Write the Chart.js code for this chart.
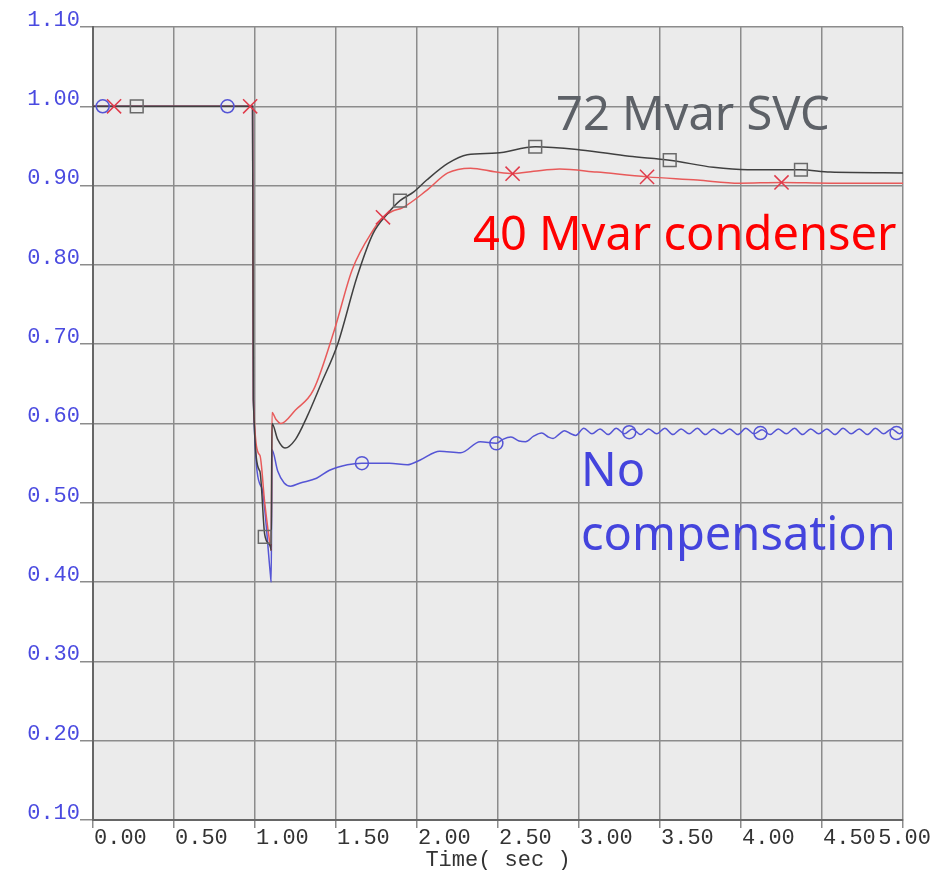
<!DOCTYPE html>
<html>
<head>
<meta charset="utf-8">
<title>Voltage recovery</title>
<script src="https://cdn.jsdelivr.net/npm/chart.js@4/dist/chart.umd.min.js"></script>
<style>
  body { margin: 0; background: #ffffff; }
  #wrap { width: 932px; height: 870px; }
</style>
</head>
<body>
<div id="wrap"><canvas id="voltChart" width="932" height="870"></canvas></div>
<script>
// 72 Mvar SVC (black)
const svcTime = [0, 0.985, 0.99, 1.03, 1.06, 1.095, 1.10, 1.105, 1.14, 1.185, 1.25, 1.32, 1.41, 1.51, 1.63, 1.73, 1.82, 1.895, 1.98, 2.06, 2.19, 2.31, 2.49, 2.73, 3.01, 3.31, 3.56, 3.83, 4.04, 4.37, 4.55, 5.0];
const svcVolt = [1.0, 1.0, 0.63, 0.54, 0.46, 0.445, 0.44, 0.60, 0.58, 0.569, 0.58, 0.608, 0.651, 0.70, 0.785, 0.84, 0.865, 0.881, 0.892, 0.907, 0.928, 0.939, 0.941, 0.949, 0.945, 0.937, 0.932, 0.923, 0.92, 0.92, 0.917, 0.916];

// 40 Mvar condenser (red)
const condTime = [0, 0.985, 0.99, 1.03, 1.06, 1.095, 1.10, 1.105, 1.13, 1.16, 1.25, 1.36, 1.49, 1.60, 1.73, 1.79, 1.85, 1.91, 2.06, 2.19, 2.33, 2.49, 2.59, 2.72, 2.88, 3.11, 3.42, 3.73, 3.99, 4.25, 4.55, 5.0];
const condVolt = [1.0, 1.0, 0.63, 0.56, 0.50, 0.445, 0.44, 0.614, 0.605, 0.60, 0.617, 0.642, 0.718, 0.794, 0.844, 0.860, 0.868, 0.872, 0.894, 0.916, 0.922, 0.917, 0.915, 0.918, 0.921, 0.917, 0.911, 0.907, 0.903, 0.904, 0.903, 0.903];

// No compensation (blue)
const noneTime = [0, 0.985, 0.99, 1.04, 1.095, 1.10, 1.105, 1.14, 1.18, 1.22, 1.28, 1.38, 1.46, 1.57, 1.66, 1.83, 1.94, 2.02, 2.14, 2.27, 2.39, 2.49,
  2.53, 2.58, 2.63, 2.67, 2.72, 2.77, 2.81, 2.84, 2.88, 2.91, 2.95, 2.98, 3.03, 3.08, 3.13, 3.18, 3.23, 3.28, 3.33, 3.38,
  3.43, 3.48, 3.53, 3.58, 3.63, 3.68, 3.73, 3.78, 3.83, 3.88, 3.93, 3.98, 4.03, 4.08, 4.13, 4.18, 4.23, 4.28, 4.33, 4.38,
  4.43, 4.48, 4.53, 4.58, 4.63, 4.68, 4.73, 4.78, 4.83, 4.88, 4.93, 4.98, 5.0];
const noneVolt = [1.0, 1.0, 0.63, 0.52, 0.41, 0.40, 0.567, 0.54, 0.525, 0.521, 0.525, 0.531, 0.541, 0.548, 0.55, 0.55, 0.548, 0.554, 0.565, 0.563, 0.577, 0.575,
  0.580, 0.583, 0.578, 0.577, 0.584, 0.588, 0.583, 0.581, 0.587, 0.591, 0.587, 0.585, 0.594, 0.587, 0.593, 0.586, 0.594, 0.587, 0.593, 0.586,
  0.593, 0.587, 0.594, 0.586, 0.593, 0.587, 0.594, 0.586, 0.593, 0.587, 0.593, 0.586, 0.594, 0.587, 0.592, 0.586, 0.593, 0.587, 0.594, 0.586,
  0.593, 0.587, 0.593, 0.586, 0.594, 0.587, 0.593, 0.586, 0.594, 0.587, 0.593, 0.587, 0.590];

// sparse markers
const svcMarkT = [0.27, 1.06, 1.895, 2.73, 3.56, 4.37];
const svcMarkV = [1.0, 0.457, 0.881, 0.949, 0.932, 0.92];
const condMarkT = [0.13, 0.97, 1.79, 2.59, 3.42, 4.25];
const condMarkV = [1.0, 1.0, 0.860, 0.915, 0.911, 0.904];
const noneMarkT = [0.06, 0.83, 1.66, 2.49, 3.31, 4.12, 4.96];
const noneMarkV = [1.0, 1.0, 0.55, 0.575, 0.589, 0.588, 0.588];

const xTicks = [0, 0.5, 1, 1.5, 2, 2.5, 3, 3.5, 4, 4.5, 5];
const xTitle = "Time( sec )";

const labels = [
  { text: "72 Mvar SVC", x: 556, y: 130, color: "#5d6167" },
  { text: "40 Mvar condenser", x: 473, y: 250, color: "#ff0000" },
  { text: "No", x: 581, y: 486, color: "#4444dd" },
  { text: "compensation", x: 581, y: 550, color: "#4444dd" }
];

function pts(ts, vs) {
  return ts.map((t, i) => ({ x: t, y: vs[i] }));
}

const monoFont = '"Liberation Mono", "DejaVu Sans Mono", monospace';

const plotBg = {
  id: "plotBg",
  beforeDraw(chart) {
    const { ctx, chartArea: a } = chart;
    ctx.save();
    ctx.fillStyle = "#ebebeb";
    ctx.fillRect(a.left, a.top, a.right - a.left, a.bottom - a.top);
    ctx.restore();
  }
};

const textBits = {
  id: "textBits",
  afterDraw(chart) {
    const { ctx, chartArea: a } = chart;
    const xs = chart.scales.x;
    ctx.save();
    // x tick labels, left-aligned at the gridline like the original plot
    ctx.font = "22px " + monoFont;
    ctx.fillStyle = "#333333";
    ctx.textBaseline = "middle";
    ctx.textAlign = "left";
    xTicks.forEach((v) => {
      const s = v.toFixed(2);
      const w = ctx.measureText(s).width;
      let px = xs.getPixelForValue(v) + 1;
      if (px + w > 931) px = 931 - w;
      ctx.fillText(s, px, 838);
    });
    ctx.textAlign = "center";
    ctx.fillText(xTitle, (a.left + a.right) / 2, 860);

    // curve annotations
    ctx.font = '47px "Noto Sans", sans-serif';
    ctx.textAlign = "left";
    ctx.textBaseline = "alphabetic";
    labels.forEach((l) => {
      ctx.fillStyle = l.color;
      ctx.fillText(l.text, l.x, l.y);
    });
    ctx.restore();
  }
};

new Chart(document.getElementById("voltChart"), {
  type: "line",
  data: {
    datasets: [
      { data: pts(noneTime, noneVolt), order: 3, borderColor: "#5555d5", borderWidth: 1.5, pointRadius: 0, cubicInterpolationMode: "monotone" },
      { data: pts(condTime, condVolt), order: 2, borderColor: "#e85a5a", borderWidth: 1.5, pointRadius: 0, cubicInterpolationMode: "monotone" },
      { data: pts(svcTime, svcVolt), order: 1, borderColor: "#404040", borderWidth: 1.5, pointRadius: 0, cubicInterpolationMode: "monotone" },
      { data: pts(noneMarkT, noneMarkV), order: 0, showLine: false, pointStyle: "circle", pointRadius: 6.5, pointBorderWidth: 1.5, borderColor: "#5555d5", backgroundColor: "rgba(0,0,0,0)" },
      { data: pts(condMarkT, condMarkV), order: 0, showLine: false, pointStyle: "crossRot", pointRadius: 10, pointBorderWidth: 1.5, borderColor: "#e03a4a", backgroundColor: "rgba(0,0,0,0)" },
      { data: pts(svcMarkT, svcMarkV), order: 0, showLine: false, pointStyle: "rect", pointRadius: 9, pointBorderWidth: 1.5, borderColor: "#6a6a6a", backgroundColor: "rgba(0,0,0,0)" }
    ]
  },
  options: {
    responsive: false,
    devicePixelRatio: 1,
    animation: false,
    layout: { padding: { top: 27, right: 29, left: 0, bottom: 0 } },
    plugins: { legend: { display: false }, tooltip: { enabled: false } },
    scales: {
      x: {
        type: "linear",
        min: 0,
        max: 5,
        afterFit: (s) => { s.height = 50; },
        ticks: { stepSize: 0.5, display: false },
        grid: { color: "#8c8c8c", lineWidth: 1.5, tickLength: 8 },
        border: { color: "#666666", width: 2 }
      },
      y: {
        min: 0.1,
        max: 1.1,
        afterFit: (s) => { s.width = 93; },
        ticks: {
          stepSize: 0.1,
          padding: 0,
          labelOffset: -7,
          color: "#4a4ae0",
          font: { family: monoFont, size: 22 },
          callback: (v) => v.toFixed(2)
        },
        grid: { color: "#8c8c8c", lineWidth: 1.5, tickLength: 13 },
        border: { color: "#666666", width: 2 }
      }
    }
  },
  plugins: [plotBg, textBits]
});
</script>
</body>
</html>
